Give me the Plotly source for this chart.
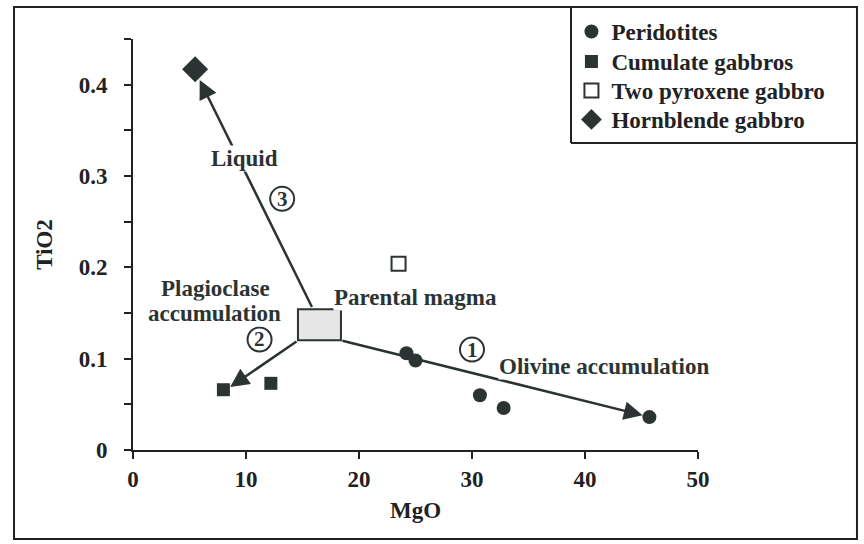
import plotly.graph_objects as go

# values (MgO vs TiO2, wt%)
peridotite_mgo = [24.2, 25.0, 30.7, 32.8, 45.7]
peridotite_tio2 = [0.106, 0.098, 0.060, 0.046, 0.036]

cumulate_mgo = [8.0, 12.2]
cumulate_tio2 = [0.066, 0.073]

two_px_mgo = [23.5]
two_px_tio2 = [0.204]

hornblende_mgo = [5.5]
hornblende_tio2 = [0.417]

parental_mgo = 16.5
parental_tio2 = 0.137

# trend arrows: tail (at parental box) -> head
arrow_tail_mgo = [18.4, 14.6, 15.9]
arrow_tail_tio2 = [0.120, 0.120, 0.155]
arrow_head_mgo = [45.1, 8.6, 5.9]
arrow_head_tio2 = [0.038, 0.069, 0.405]

# circled step numbers
step_labels = ["1", "2", "3"]
step_mgo = [30.0, 11.2, 13.2]
step_tio2 = [0.110, 0.121, 0.275]

# text labels
label_text = ["Liquid", "Plagioclase", "accumulation", "Parental magma", "Olivine accumulation"]
label_mgo = [9.9, 7.3, 7.2, 25.0, 41.7]
label_tio2 = [0.319, 0.177, 0.150, 0.167, 0.091]

dark = "#2b3432"
ink = "#222"
serif = "Liberation Serif"
fsize = 23

fig = go.Figure()

fig.add_trace(go.Scatter(
    x=peridotite_mgo, y=peridotite_tio2, mode="markers", name="Peridotites",
    legend="legend",
    marker=dict(symbol="circle", size=14, color=dark),
))
fig.add_trace(go.Scatter(
    x=cumulate_mgo, y=cumulate_tio2, mode="markers", name="Cumulate gabbros",
    legend="legend2",
    marker=dict(symbol="square", size=13, color=dark),
))
fig.add_trace(go.Scatter(
    x=two_px_mgo, y=two_px_tio2, mode="markers", name="Two pyroxene gabbro",
    legend="legend3",
    marker=dict(symbol="square-open", size=14, color=dark, line=dict(width=2)),
))
fig.add_trace(go.Scatter(
    x=hornblende_mgo, y=hornblende_tio2, mode="markers", name="Hornblende gabbro",
    legend="legend4",
    marker=dict(symbol="diamond", size=20, color=dark),
))

# parental magma box
fig.add_shape(
    type="rect", xref="x", yref="y", xsizemode="pixel", ysizemode="pixel",
    xanchor=parental_mgo, yanchor=parental_tio2,
    x0=-21.5, x1=21.5, y0=-15.5, y1=15.5,
    fillcolor="#e6e6e6", line=dict(color=dark, width=2), layer="above",
)

for tx, ty, hx, hy in zip(arrow_tail_mgo, arrow_tail_tio2, arrow_head_mgo, arrow_head_tio2):
    fig.add_annotation(
        x=hx, y=hy, ax=tx, ay=ty, xref="x", yref="y", axref="x", ayref="y",
        text="", showarrow=True, arrowhead=2, arrowsize=1.5, arrowwidth=2.5,
        arrowcolor=dark,
    )

for lab, sx, sy in zip(step_labels, step_mgo, step_tio2):
    fig.add_shape(
        type="circle", xref="x", yref="y", xsizemode="pixel", ysizemode="pixel",
        xanchor=sx, yanchor=sy, x0=-12, x1=12, y0=-12, y1=12,
        line=dict(color=dark, width=2), fillcolor="white",
    )
    fig.add_annotation(
        x=sx, y=sy, text=lab, showarrow=False,
        font=dict(family=serif, size=21, color=dark, weight="bold"),
    )

for txt, lx, ly in zip(label_text, label_mgo, label_tio2):
    fig.add_annotation(
        x=lx, y=ly, text=txt, showarrow=False, bgcolor="white", borderpad=0,
        font=dict(family=serif, size=fsize, color=dark, weight="bold"),
    )

# outer frame and legend box
fig.add_shape(type="rect", xref="paper", yref="paper",
              x0=-0.2106, x1=1.2814, y0=-0.2165, y1=1.0779,
              line=dict(color=ink, width=2))
fig.add_shape(type="line", xref="paper", yref="paper",
              x0=0.7752, x1=0.7752, y0=0.747, y1=1.0779,
              line=dict(color=ink, width=2))
fig.add_shape(type="line", xref="paper", yref="paper",
              x0=0.7752, x1=1.2814, y0=0.747, y1=0.747,
              line=dict(color=ink, width=2))

tickfont = dict(family=serif, size=fsize, color=ink, weight="bold")

fig.update_xaxes(
    range=[0, 50], dtick=10, ticks="outside", ticklen=7, tickwidth=2,
    tickcolor=ink, showline=True, linewidth=2, linecolor=ink,
    showgrid=False, zeroline=False, tickfont=tickfont,
    title=dict(text="MgO", font=tickfont, standoff=11),
)
fig.update_yaxes(
    range=[0, 0.45], tickvals=[0, 0.1, 0.2, 0.3, 0.4],
    ticktext=["0", "0.1", "0.2", "0.3", "0.4"],
    ticks="outside", ticklen=7, tickwidth=2, tickcolor=ink,
    minor=dict(tickvals=[0.05, 0.15, 0.25, 0.35, 0.45], ticks="outside",
               ticklen=7, tickwidth=2, tickcolor=ink),
    showline=True, linewidth=2, linecolor=ink,
    showgrid=False, zeroline=False, tickfont=tickfont, ticklabelstandoff=12,
    title=dict(text="TiO2", font=tickfont, standoff=20),
)

# one legend per entry so the row spacing can match the original key
legend_font = dict(family=serif, size=fsize, color=ink, weight="bold")
legend_rows = [1.0706, 0.9976, 0.9270, 0.8564]
legends = {}
for i, ly in enumerate(legend_rows):
    key = "legend" if i == 0 else f"legend{i + 1}"
    legends[key] = dict(
        x=0.776, y=ly, xanchor="left", yanchor="top",
        bgcolor="rgba(0,0,0,0)", borderwidth=0, font=legend_font,
    )

fig.update_layout(
    width=864, height=544,
    margin=dict(l=133, r=166, t=39, b=94, autoexpand=False),
    paper_bgcolor="white", plot_bgcolor="white",
    showlegend=True,
    **legends,
)

# drop the default 8px page margin so the figure sits at the window origin
fig.write_html(
    "out.html",
    config={"displayModeBar": False},
    post_script="document.body.style.margin='0';",
)
